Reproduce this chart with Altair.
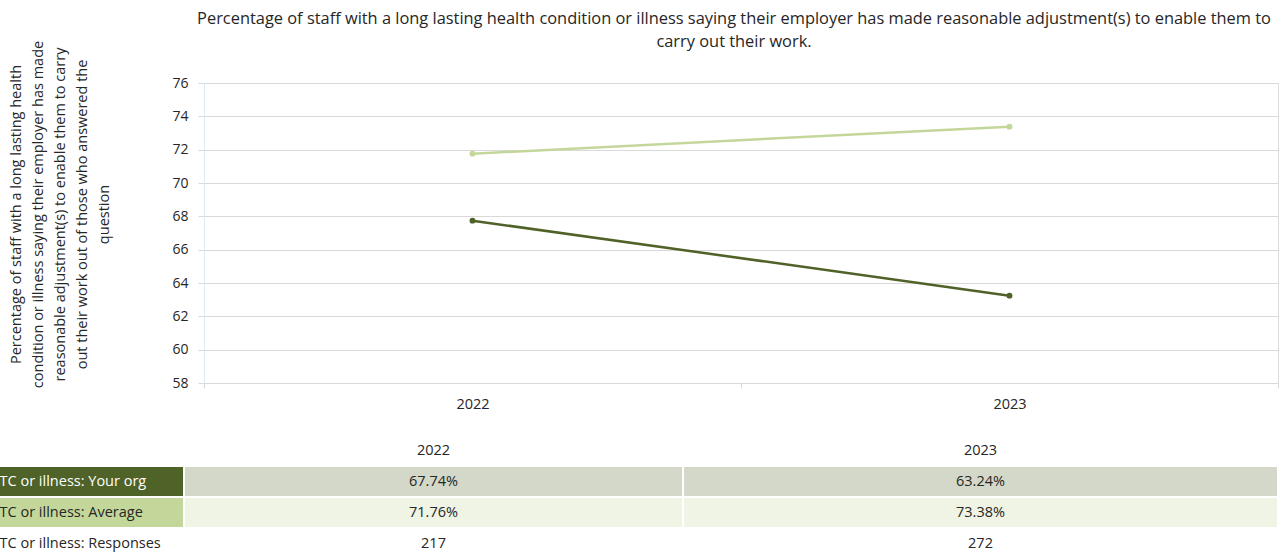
import altair as alt
import pandas as pd

years = ["2022", "2023"]
your_org = [67.74, 63.24]
average = [71.76, 73.38]
responses = [217, 272]
series = ["LTC or illness: Your org", "LTC or illness: Average"]
row_labels = ["LTC or illness: Your org", "LTC or illness: Average", "LTC or illness: Responses"]
title_lines = [
    "Percentage of staff with a long lasting health condition or illness saying their employer has made reasonable adjustment(s) to enable them to",
    "carry out their work.",
]
y_title = [
    "Percentage of staff with a long lasting health",
    "condition or illness saying their employer has made",
    "reasonable adjustment(s) to enable them to carry",
    "out their work out of those who answered the",
    "question",
]
y_ticks = [58, 60, 62, 64, 66, 68, 70, 72, 74, 76]

FONT = "Open Sans"
DARK = "#4f6228"
LIGHT = "#c4d79b"
TXT = "#262626"

# ---- line chart data
line_rows = []
for s, vals in zip(series, [your_org, average]):
    for y, v in zip(years, vals):
        line_rows.append({"year": y, "series": s, "value": v})
line_df = pd.DataFrame(line_rows)

x_enc = alt.X(
    "year:N",
    scale=alt.Scale(domain=years, paddingInner=0, paddingOuter=0),
    axis=alt.Axis(
        title=None, labelAngle=0, tickBand="extent", domainColor="#d9d9d9",
        tickColor="#d9d9d9", tickSize=5, labelPadding=9, labelFont=FONT,
        labelFontSize=14.5, labelColor=TXT, grid=False,
    ),
)
y_enc = alt.Y(
    "value:Q",
    scale=alt.Scale(domain=[58, 76], nice=False, zero=False),
    axis=alt.Axis(
        values=y_ticks, title=y_title, titleAngle=270, titleAlign="center",
        titleBaseline="top", titleX=-195, titleY=131, titleLineHeight=22,
        titleFont=FONT, titleFontSize=14.5, titleFontWeight="normal", titleColor=TXT,
        labelFont=FONT, labelFontSize=14, labelColor=TXT, labelPadding=10,
        grid=True, gridColor="#d9d9d9", domainColor="#dae9f8", tickColor="#d9d9d9", tickSize=6,
    ),
)
color_enc = alt.Color("series:N", scale=alt.Scale(domain=series, range=[DARK, LIGHT]), legend=None)

base = alt.Chart(line_df).encode(x=x_enc, y=y_enc, color=color_enc)
lines = base.mark_line(strokeWidth=2.5)
points = base.mark_point(filled=True, size=35, opacity=1)
plot = alt.layer(lines, points)

# ---- table data
row_keys = ["header", "org", "avg", "resp"]
cells = []
for i, y in enumerate(years):
    cells.append({"row": "header", "col": i + 1, "text": y, "kind": "none", "tcolor": "dark"})
    cells.append({"row": "org", "col": i + 1, "text": f"{your_org[i]:.2f}%", "kind": "org_val", "tcolor": "dark"})
    cells.append({"row": "avg", "col": i + 1, "text": f"{average[i]:.2f}%", "kind": "avg_val", "tcolor": "dark"})
    cells.append({"row": "resp", "col": i + 1, "text": str(responses[i]), "kind": "none", "tcolor": "dark"})
cells.append({"row": "org", "col": 0, "text": row_labels[0], "kind": "org_label", "tcolor": "white"})
cells.append({"row": "avg", "col": 0, "text": row_labels[1], "kind": "avg_label", "tcolor": "dark"})
cells.append({"row": "resp", "col": 0, "text": row_labels[2], "kind": "none", "tcolor": "dark"})
table_df = pd.DataFrame(cells)

tx_scale = alt.Scale(domain=[0, 1, 2, 3], range=[-216, -20, 479, 1074])
ty_scale = alt.Scale(domain=row_keys, range=[352, 476], paddingInner=0, paddingOuter=0)

tbase = alt.Chart(table_df)
rects = tbase.transform_filter("datum.kind != 'none'").transform_calculate(
    col2="datum.col + 1"
).mark_rect(stroke="white", strokeWidth=2).encode(
    x=alt.X("col:Q", scale=tx_scale, axis=None),
    x2="col2:Q",
    y=alt.Y("row:N", scale=ty_scale, axis=None),
    fill=alt.Fill(
        "kind:N",
        scale=alt.Scale(domain=["org_label", "avg_label", "org_val", "avg_val"],
                        range=[DARK, LIGHT, "#d4d8c8", "#f0f4e4"]),
        legend=None,
    ),
)
tcolor = alt.Color("tcolor:N", scale=alt.Scale(domain=["dark", "white"], range=[TXT, "#ffffff"]), legend=None)
val_text = tbase.transform_filter("datum.col > 0").transform_calculate(
    cx="datum.col + 0.5"
).mark_text(font=FONT, fontSize=14.5, align="center", baseline="middle").encode(
    x=alt.X("cx:Q", scale=tx_scale, axis=None),
    y=alt.Y("row:N", scale=ty_scale, axis=None),
    text="text:N",
    color=tcolor,
)
lab_text = tbase.transform_filter("datum.col == 0").mark_text(
    font=FONT, fontSize=14.5, align="left", baseline="middle", dx=4
).encode(
    x=alt.X("col:Q", scale=tx_scale, axis=None),
    y=alt.Y("row:N", scale=ty_scale, axis=None),
    text="text:N",
    color=tcolor,
)
table = alt.layer(rects, val_text, lab_text).resolve_scale(color="independent")

chart = alt.layer(plot, table).resolve_scale(
    x="independent", y="independent", color="independent"
).properties(
    width=1074, height=300,
    title=alt.TitleParams(
        text=title_lines, anchor="middle", font=FONT, fontSize=16.4, fontWeight="normal",
        color=TXT, lineHeight=23, offset=-10, dx=-7,
    ),
    autosize=alt.AutoSizeParams(type="none"),
    padding={"left": 204, "top": 83, "right": 7, "bottom": 173},
).configure_view(stroke=None).configure(background="white")

chart.save("out.html", embed_options={"renderer": "svg", "actions": False})
